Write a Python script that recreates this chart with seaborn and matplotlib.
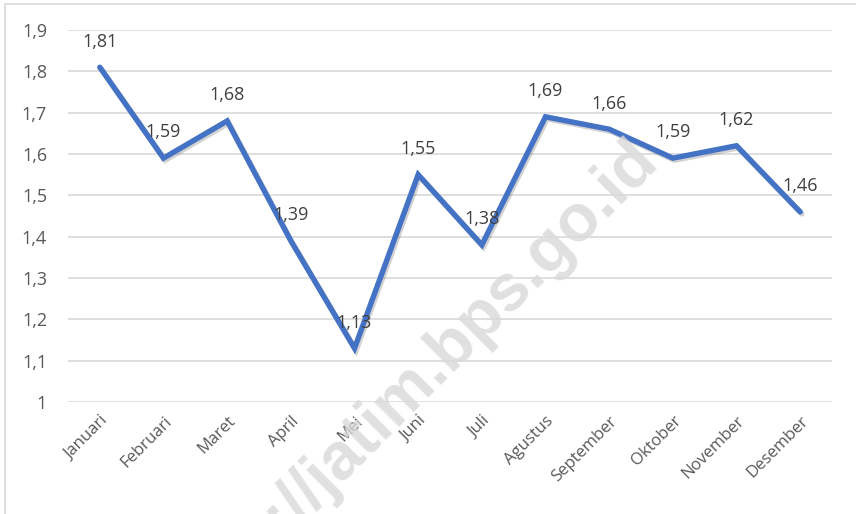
import matplotlib
matplotlib.use("Agg")
import matplotlib.pyplot as plt
import matplotlib.patheffects as pe
from matplotlib.lines import Line2D
import seaborn as sns
import pandas as pd

months = ["Januari", "Februari", "Maret", "April", "Mei", "Juni", "Juli",
          "Agustus", "September", "Oktober", "November", "Desember"]
values = [1.81, 1.59, 1.68, 1.39, 1.13, 1.55, 1.38, 1.69, 1.66, 1.59, 1.62, 1.46]
yticks = [1.0, 1.1, 1.2, 1.3, 1.4, 1.5, 1.6, 1.7, 1.8, 1.9]
ytick_labels = ["1", "1,1", "1,2", "1,3", "1,4", "1,5", "1,6", "1,7", "1,8", "1,9"]

sns.set_theme(style="white")
plt.rcParams['font.family'] = ['Open Sans', 'DejaVu Sans']

df = pd.DataFrame({"month": months, "value": values})

fig = plt.figure(figsize=(8.56, 5.14), dpi=100)
ax = fig.add_axes([0.0794, 0.2179, 0.8926, 0.7237])

# watermark
fig.text(648 / 856, 1 - 150 / 514, "https://jatim.bps.go.id", rotation=45,
         rotation_mode="anchor", ha="right", va="center", fontsize=48,
         fontweight="bold", color="#d9d9d9", alpha=0.8, zorder=0,
         family=["Liberation Sans", "DejaVu Sans"])

x = list(range(len(months)))
sns.lineplot(x=x, y=df["value"], ax=ax, color="#4472C4", linewidth=3.9,
             solid_joinstyle="miter", solid_capstyle="round", zorder=3,
             path_effects=[pe.SimpleLineShadow(offset=(1.2, -1.5), shadow_color="gray", alpha=0.35),
                           pe.Normal()])

for xi, v in zip(x, values):
    ax.annotate(f"{v:.2f}".replace(".", ","), (xi, v), xytext=(0, 12),
                textcoords="offset points", ha="center", va="bottom",
                fontsize=13, color="#404040", zorder=4)

ax.set_xlim(-0.5, 11.5)
ax.set_ylim(1.0, 1.9)
ax.set_yticks(yticks)
ax.set_yticklabels(ytick_labels)
ax.set_xticks(x)
ax.set_xticklabels(months, rotation=45, ha="right", rotation_mode="anchor")
ax.tick_params(axis="both", length=0, labelcolor="#595959")
ax.tick_params(axis="y", pad=15, labelsize=13)
ax.tick_params(axis="x", pad=8, labelsize=12)
ax.set_xlabel("")
ax.set_ylabel("")
ax.grid(axis="y", color="#d9d9d9", linewidth=1.2)
ax.grid(axis="x", visible=False)
for s in ax.spines.values():
    s.set_visible(False)
ax.patch.set_alpha(0)

# chart border
fig.add_artist(Line2D([5 / 856, 1], [1 - 4 / 514, 1 - 4 / 514], color="#d9d9d9", linewidth=1.2))
fig.add_artist(Line2D([5 / 856, 5 / 856], [0, 1 - 4 / 514], color="#d9d9d9", linewidth=1.2))

fig.savefig("out.png", dpi=100)
